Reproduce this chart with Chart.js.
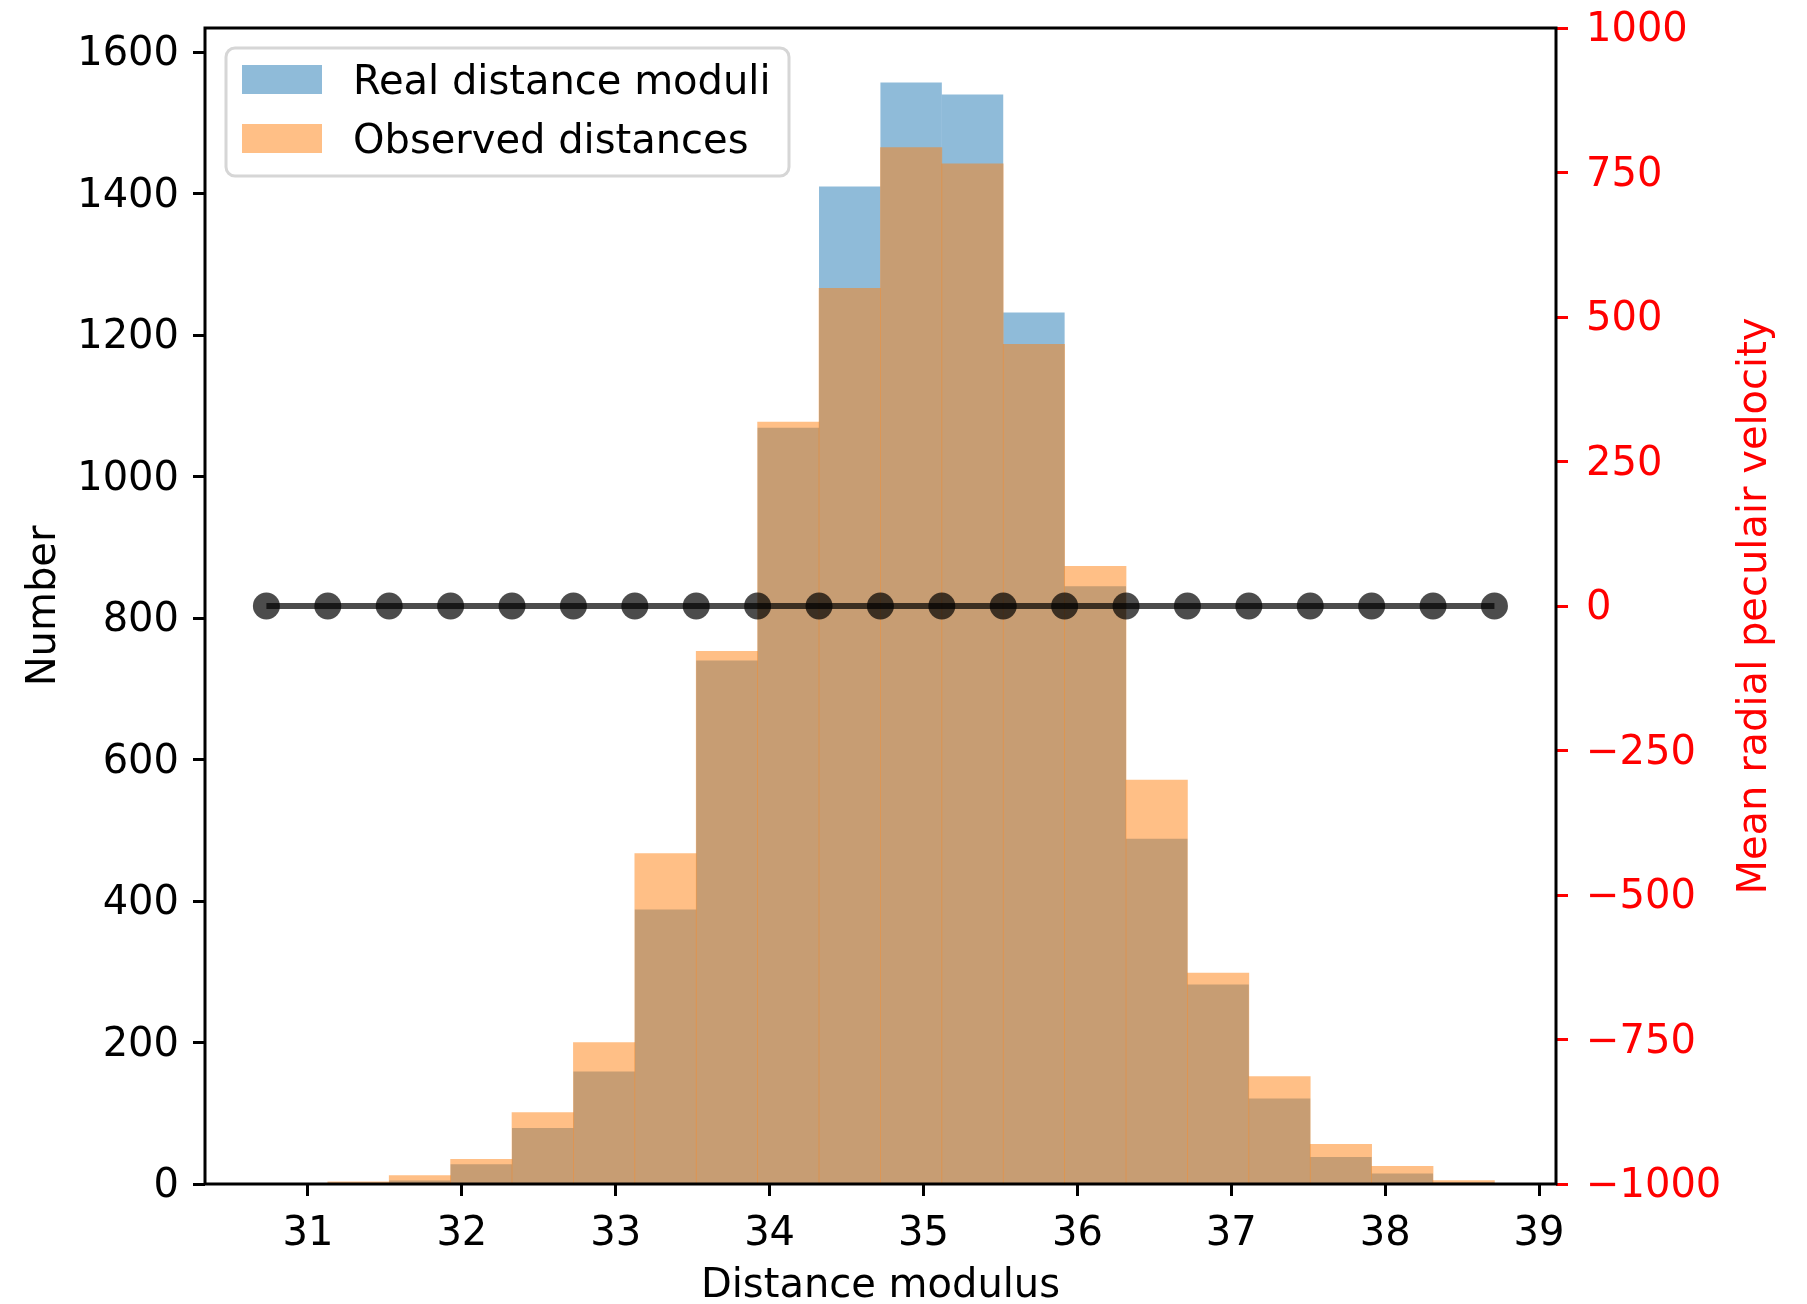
<!DOCTYPE html>
<html>
<head>
<meta charset="utf-8">
<script src="https://cdn.jsdelivr.net/npm/chart.js@4.4.1/dist/chart.umd.min.js"></script>
<style>
  html, body { margin: 0; padding: 0; background: #ffffff; }
  #wrap { width: 1807px; height: 1304px; }
</style>
</head>
<body>
<div id="wrap"><canvas id="c" width="1807" height="1304"></canvas></div>
<script>
// ---- Data ----
const binEdges = [30.730, 31.129, 31.528, 31.927, 32.326, 32.725, 33.124, 33.523, 33.922, 34.321,
                  34.720, 35.119, 35.518, 35.917, 36.316, 36.715, 37.114, 37.513, 37.912, 38.311, 38.710];
const realCounts     = [1, 1, 5, 28, 79, 159, 388, 740, 1069, 1410, 1557, 1540, 1232, 845, 488, 282, 121, 38, 15, 2];
const observedCounts = [0, 3, 12, 35, 101, 200, 467, 753, 1077, 1266, 1465, 1442, 1187, 873, 571, 298, 152, 56, 25, 5];
const meanVelocity   = [0, 0, 0, 0, 0, 0, 0, 0, 0, 0, 0, 0, 0, 0, 0, 0, 0, 0, 0, 0, 0];

const xTickValues  = [31, 32, 33, 34, 35, 36, 37, 38, 39];
const yTickValues  = [0, 200, 400, 600, 800, 1000, 1200, 1400, 1600];
const y2TickValues = [-1000, -750, -500, -250, 0, 250, 500, 750, 1000];

const seriesLabels = ['Real distance moduli', 'Observed distances'];
const xTitle  = 'Distance modulus';
const yTitle  = 'Number';
const y2Title = 'Mean radial peculair velocity';

// ---- Build tables for the library ----
const binCenters = binEdges.slice(0, -1).map((e, i) => (e + binEdges[i + 1]) / 2);
const realData = binCenters.map((x, i) => ({x: x, y: realCounts[i]}));
const obsData  = binCenters.map((x, i) => ({x: x, y: observedCounts[i]}));
const velData  = binEdges.map((x, i) => ({x: x, y: meanVelocity[i]}));

const FONT = '"DejaVu Sans", "Liberation Sans", sans-serif';
const BLUE = 'rgba(31,119,180,0.5)';
const ORANGE = 'rgba(255,127,14,0.5)';

const fmtMinus = v => (v < 0 ? '\u2212' + Math.abs(v) : String(v));
const zeroPad = s => { s.paddingTop = 0; s.paddingBottom = 0; s.paddingLeft = 0; s.paddingRight = 0; };

const decorPlugin = {
  id: 'decor',
  afterDraw(chart) {
    const ctx = chart.ctx;
    const ca = chart.chartArea;
    ctx.save();
    // frame (spines)
    ctx.strokeStyle = '#000000';
    ctx.lineWidth = 3;
    ctx.strokeRect(ca.left, ca.top, ca.right - ca.left, ca.bottom - ca.top);

    // axis titles
    ctx.font = '40px ' + FONT;
    ctx.textAlign = 'center';
    ctx.textBaseline = 'alphabetic';
    ctx.fillStyle = '#000000';
    ctx.fillText(xTitle, (ca.left + ca.right) / 2, 1297);
    const cy = (ca.top + ca.bottom) / 2;
    ctx.save();
    ctx.translate(55, cy);
    ctx.rotate(-Math.PI / 2);
    ctx.fillText(yTitle, 0, 0);
    ctx.restore();
    ctx.save();
    ctx.translate(1766, cy);
    ctx.rotate(-Math.PI / 2);
    ctx.fillStyle = '#ff0000';
    ctx.fillText(y2Title, 0, 0);
    ctx.restore();

    // legend
    const lx = 226, ly = 48, lw = 563, lh = 128, r = 9;
    ctx.beginPath();
    ctx.roundRect(lx, ly, lw, lh, r);
    ctx.fillStyle = 'rgba(255,255,255,0.8)';
    ctx.fill();
    ctx.lineWidth = 3;
    ctx.strokeStyle = '#d6d6d6';
    ctx.stroke();
    ctx.fillStyle = BLUE;
    ctx.fillRect(242, 65, 80, 29);
    ctx.fillStyle = ORANGE;
    ctx.fillRect(242, 124, 80, 29);
    ctx.fillStyle = '#000000';
    ctx.textAlign = 'left';
    ctx.fillText(seriesLabels[0], 353, 94);
    ctx.fillText(seriesLabels[1], 353, 153);
    ctx.restore();
  }
};

const tickFont = {family: FONT, size: 40};

new Chart(document.getElementById('c'), {
  type: 'bar',
  data: {
    datasets: [
      {
        type: 'line',
        label: 'velocity',
        data: velData,
        xAxisID: 'x',
        yAxisID: 'y2',
        borderColor: 'rgba(0,0,0,0.7)',
        borderWidth: 6,
        pointRadius: 13.5,
        pointBorderWidth: 0,
        pointBackgroundColor: 'rgba(0,0,0,0.7)',
        pointHoverRadius: 13.5,
        tension: 0,
        order: 0
      },
      {
        label: seriesLabels[1],
        data: obsData,
        xAxisID: 'x',
        yAxisID: 'y',
        backgroundColor: ORANGE,
        borderWidth: 0,
        grouped: false,
        barPercentage: 1,
        categoryPercentage: 1,
        order: 1
      },
      {
        label: seriesLabels[0],
        data: realData,
        xAxisID: 'x',
        yAxisID: 'y',
        backgroundColor: BLUE,
        borderWidth: 0,
        inflateAmount: 0,
        grouped: false,
        barPercentage: 1,
        categoryPercentage: 1,
        order: 2
      }
    ]
  },
  options: {
    responsive: false,
    devicePixelRatio: 1,
    animation: false,
    layout: {padding: {top: 28, left: 0, right: 0, bottom: 0}},
    plugins: {legend: {display: false}, tooltip: {enabled: false}},
    scales: {
      x: {
        type: 'linear',
        position: 'bottom',
        min: 30.331,
        max: 39.11,
        offset: false,
        afterBuildTicks: s => { s.ticks = xTickValues.map(v => ({value: v})); },
        afterFit: s => { s.height = 120; zeroPad(s); },
        ticks: {font: tickFont, color: '#000000', padding: 15, maxRotation: 0, autoSkip: false,
                callback: v => String(v)},
        grid: {offset: false, drawOnChartArea: false, drawTicks: true, tickLength: 12, tickWidth: 3, tickColor: '#000000'},
        border: {display: false}
      },
      y: {
        type: 'linear',
        position: 'left',
        min: 0,
        max: 1634,
        afterBuildTicks: s => { s.ticks = yTickValues.map(v => ({value: v})); },
        afterFit: s => { s.width = 205; zeroPad(s); },
        ticks: {font: tickFont, color: '#000000', padding: 14, labelOffset: 3, autoSkip: false,
                callback: v => String(v)},
        grid: {offset: false, drawOnChartArea: false, drawTicks: true, tickLength: 12, tickWidth: 3, tickColor: '#000000'},
        border: {display: false}
      },
      y2: {
        type: 'linear',
        position: 'right',
        min: -1000,
        max: 1000,
        afterBuildTicks: s => { s.ticks = y2TickValues.map(v => ({value: v})); },
        afterFit: s => { s.width = 251; zeroPad(s); },
        ticks: {font: tickFont, color: '#ff0000', padding: 18, labelOffset: 3, autoSkip: false,
                callback: v => fmtMinus(v)},
        grid: {offset: false, drawOnChartArea: false, drawTicks: true, tickLength: 12, tickWidth: 3, tickColor: '#ff0000'},
        border: {display: false}
      }
    }
  },
  plugins: [decorPlugin]
});
</script>
</body>
</html>
